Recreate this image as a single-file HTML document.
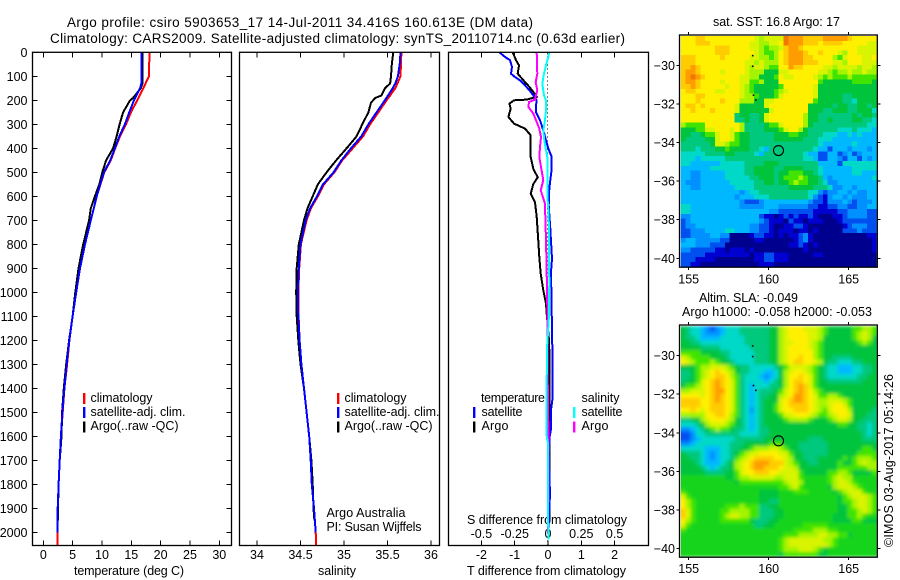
<!DOCTYPE html>
<html><head><meta charset="utf-8"><title>Argo profile</title>
<style>
html,body{margin:0;padding:0;background:#fff;width:900px;height:580px;overflow:hidden}
svg{display:block}
text{font-family:"Liberation Sans",sans-serif;font-size:12.5px;fill:#000}
.t{font-size:13.5px}
</style></head>
<body>
<svg id="chart" width="900" height="580" viewBox="0 0 900 580">
<defs><filter id="soft" x="-2%" y="-2%" width="104%" height="104%"><feGaussianBlur stdDeviation="1.6"/></filter>
<clipPath id="slaClip"><rect x="680.7" y="326" width="196" height="230.7"/></clipPath></defs>
<text class="t" x="67" y="27" textLength="466">Argo profile: csiro 5903653_17 14-Jul-2011 34.416S 160.613E (DM data)</text>
<text class="t" x="50" y="43" textLength="575">Climatology: CARS2009. Satellite-adjusted climatology: synTS_20110714.nc (0.63d earlier)</text>
<text x="74" y="575" textLength="110">temperature (deg C)</text>
<text x="318" y="575" textLength="38">salinity</text>
<text x="467" y="524" textLength="160">S difference from climatology</text>
<text x="467" y="575" textLength="159">T difference from climatology</text>

<rect x="83" y="393" width="2.4" height="11" fill="#f00"/>
<rect x="83" y="407" width="2.4" height="11" fill="#00f"/>
<rect x="83" y="421.500" width="2.4" height="11" fill="#000"/>
<text x="90.500" y="402" textLength="62">climatology</text>
<text x="90.500" y="416" textLength="95">satellite-adj. clim.</text>
<text x="90.500" y="430" textLength="88">Argo(..raw -QC)</text>

<rect x="337" y="393" width="2.4" height="11" fill="#f00"/>
<rect x="337" y="407" width="2.4" height="11" fill="#00f"/>
<rect x="337" y="421.500" width="2.4" height="11" fill="#000"/>
<text x="344.500" y="402" textLength="62">climatology</text>
<text x="344.500" y="416" textLength="95">satellite-adj. clim.</text>
<text x="344.500" y="430" textLength="88">Argo(..raw -QC)</text>
<text x="326.500" y="517" textLength="79">Argo Australia</text>
<text x="326.500" y="531" textLength="95">PI: Susan Wijffels</text>

<text x="481" y="402" textLength="64">temperature</text>
<text x="481.500" y="416" textLength="41">satellite</text>
<text x="481.500" y="430" textLength="27">Argo</text>
<text x="581.500" y="402" textLength="38">salinity</text>
<text x="581.500" y="416" textLength="41">satellite</text>
<text x="581.500" y="430" textLength="27">Argo</text>
<rect x="473" y="407" width="2.4" height="11" fill="#00f"/>
<rect x="473" y="421.500" width="2.4" height="11" fill="#000"/>
<rect x="573" y="407" width="2.4" height="11" fill="#0ff"/>
<rect x="573" y="421.500" width="2.4" height="11" fill="#f0f"/>

<text x="713" y="26" textLength="127">sat. SST: 16.8 Argo: 17</text>
<text x="699" y="302" textLength="99">Altim. SLA: -0.049</text>
<text x="682" y="316" textLength="190">Argo h1000: -0.058 h2000: -0.053</text>
<text transform="translate(893,547) rotate(-90)" x="0" y="0" textLength="173">©IMOS 03-Aug-2017 05:14:26</text>
</svg>
<script>
const depthTicks = [0,100,200,300,400,500,600,700,800,900,1000,1100,1200,1300,1400,1500,1600,1700,1800,1900,2000];
const tempTicks = [0,5,10,15,20,25,30];
const salTicks = [34,34.5,35,35.5,36];
const diffTTicks = [-2,-1,0,1,2];
const diffSTicks = [-0.5,-0.25,0,0.25,0.5];
const lonTicks = [155,160,165];
const latTicks = [-30,-32,-34,-36,-38,-40];

const climDepth = [0,100,150,200,250,300,350,400,450,500,550,600,650,700,800,900,1000,1100,1200,1300,1400,1500,1600,1700,1800,1900,2000,2056];
const climTemp = [18.1,18.0,17.05,16.0,14.95,14.1,13.07,12.25,11.5,10.4,9.75,9.1,8.6,8.1,7.05,6.25,5.6,5.0,4.45,4.05,3.6,3.3,3.0,2.8,2.6,2.45,2.4,2.4];
const climSal = [35.66,35.65,35.59,35.49,35.395,35.3,35.22,35.1,34.98,34.89,34.77,34.7,34.62,34.57,34.505,34.485,34.475,34.478,34.49,34.51,34.54,34.57,34.6,34.617,34.63,34.655,34.675,34.68];

const satDepth = [0,130,150,200,250,300,350,400,450,500,550,600,650,700,800,900,1000,1100,1200,1300,1400,1500,1600,1700,1800,1900,2000];
const satTemp = [16.7,16.7,16.5,15.46,14.66,13.9,12.95,12.2,11.4,10.35,9.7,9.1,8.6,8.1,7.1,6.25,5.6,5.0,4.43,3.98,3.6,3.25,3.0,2.8,2.6,2.45,2.4];
const satSalDepth = [0,50,100,130,150,200,250,300,350,400,450,500,550,600,650,700,800,900,1000,1100,1200,1300,1400,1500,1600,1700,1800,1900,2000];
const satSal = [35.65,35.64,35.62,35.59,35.56,35.47,35.375,35.28,35.2,35.08,34.97,34.88,34.76,34.69,34.61,34.56,34.5,34.48,34.47,34.475,34.49,34.51,34.54,34.57,34.6,34.617,34.63,34.655,34.675];

const argoDepth = [0,130,150,190,200,250,300,350,400,450,500,550,600,650,700,800,900,1000,1100,1200,1300,1400,1500,1600,1700,1800,1900,1950];
const argoTemp = [16.9,16.9,16.6,15.3,14.8,13.6,13.0,12.5,11.9,10.7,10.05,9.55,8.8,8.1,7.8,6.8,6.0,5.45,5.0,4.4,3.9,3.5,3.2,3.1,2.8,2.6,2.5,2.5];
const argoSalDepth = [0,50,100,130,150,180,190,210,250,300,350,400,450,500,550,600,650,700,800,900,1000,1100,1200,1300,1400,1500,1600,1700,1800,1900,1950];
const argoSal = [35.567,35.55,35.54,35.53,35.47,35.43,35.36,35.31,35.28,35.21,35.145,35.03,34.91,34.8,34.7,34.64,34.58,34.54,34.48,34.456,34.45,34.456,34.475,34.5,34.54,34.57,34.6,34.625,34.64,34.65,34.66];

const dtArgoDepth = [0,33,54,89,124,144,165,186,197,200,214,235,269,297,318,346,394,436,485,521,549,589,624,686,786,853,922,992,1047,1089,1200,1300,1500,1700,1900,1950];
const dtArgo = [-1.06,-0.96,-0.87,-0.91,-0.69,-0.56,-0.44,-0.34,-0.64,-1.02,-1.16,-1.12,-1.19,-1.02,-0.69,-0.52,-0.52,-0.52,-0.44,-0.31,-0.44,-0.52,-0.39,-0.34,-0.29,-0.26,-0.22,-0.14,-0.06,-0.04,0.03,0.05,0.05,0.05,0.05,0.05];
const dtSatDepth = [0,19,33,61,89,103,117,138,158,179,200,221,249,283,325,367,401,436,485,568,638,735,860,915,1228,1450,1490,1570,1600,1670,1840,2000];
const dtSat = [-1.46,-1.29,-1.14,-1.08,-1.11,-0.99,-0.84,-0.69,-0.56,-0.44,-0.34,-0.36,-0.36,-0.24,-0.14,-0.06,0.01,0.11,0.11,0.04,0.02,0.07,0.12,0.09,0.13,0.13,0.09,0.09,0.05,0.02,0.06,0.01];
const dsArgoDepth = [0,89,124,158,179,197,207,228,255,283,318,353,394,436,478,533,575,630,686,783,922,1061,1117,1250,1670,2000];
const dsArgo = [-0.085,-0.08,-0.0925,-0.08,-0.09,-0.0975,-0.1425,-0.1475,-0.11,-0.09,-0.065,-0.0525,-0.06,-0.065,-0.0525,-0.035,-0.055,-0.0225,-0.02,-0.015,-0.01,-0.005,-0.005,-0.005,0.005,0.0];
const dsSatDepth = [0,19,54,89,131,179,200,242,283,325,367,408,436,512,595,678,817,957,1095,1117,1233,1372,1600,1628,1950,2030];
const dsSat = [0.01,0.0025,-0.015,-0.03,-0.0425,-0.03,-0.015,-0.015,-0.0225,-0.035,-0.0275,-0.015,-0.005,-0.0025,-0.005,0.005,0.0075,0.01,0.0075,0.005,-0.0075,-0.01,-0.01,0.0,0.0,0.005];

const islandLon = [159,159,159.05,159.2];
const islandLat = [-29.5,-30.05,-31.55,-31.8];
const argoLon = [160.613];
const argoLat = [-34.416];

const colorScale = ['#00008f','#0000d0','#0050f0','#0090ff','#00b8ff','#00d8c8','#00c87c','#00c43c','#40e400','#a4f400','#d8f400','#fff000','#ffcc00','#ff9c00','#f07800','#14d41c'];

const sstRows = [
"bbbccbbbbbbbbbba9aaaaedddccccdddddcbbbbb",
"bbbcccbbbbbbbbaa99aabedddcccbccccbbbbbaa",
"bbbbbbbcccbbbbaa9899acddcbbbbbbbbbbbaaaa",
"bbbbbbbcccbbbbba9889bcdddcbbcbbba9bbaaaa",
"cccbbbbbcbbbbbaa9989bcdddccbbbb98abbbaab",
"cccbbbbbbbbbbaa9a999bcdddcccbbbaa9bbbaaa",
"ccdcbbbbbbbbba9aa988bbdccbbbbaa9aaaa9aa9",
"cddcbbbbabbbba999777aabbbbbbaa9899a99a99",
"cdedcbbbbbbbaa997778baabbbba989888988888",
"cddcbbbbabbbaa889777bbbbbbbb877777788887",
"ccdcbbbbbabba98777778bbbbbba777777777777",
"bccbbbbaabbba98777789abbbbba777777777777",
"bbbccbbbbbbba9987778abbbbbba777776677777",
"bbbcbbbbcbbb99977aabbbbbbbb8777776657777",
"bccbcbbbbbba77777abbbbbbbb77777677667767",
"bbcbbbcbbbba777777abbbbbbb77766777667775",
"bbbbbbbbbbb677667abbbbbbb977666666676776",
"bbbbbbbbbbb667667abbbbbbb977667666677665",
"98888bbbbbbb96666788abbbb976666666666655",
"77788aabbbab966667778abb9766666655565554",
"7766788abba87766666777887766655544545444",
"7666677abba87766666777777666555444444444",
"6666667aa98877666666666666665444444544 4",
"6665666778777766546666666665442444344434",
"5555566667766665466666666544224423423444",
"5554555556666666666666666554224432442434",
"5544444455555666677766666666444425555555",
"4444445555555667777667777666544444455555",
"4433444445555667777677888776544444455444",
"4433444445555566777678889877643444444445",
"4333444444555556677677898877653344444444",
"4433444444455556666666777776665334434444",
"4444444444443455666666666655323344343344",
"4444444444434445556666666653213443433344",
"4444444444443222344444444432213334323334",
"5544444444443333344433333322112233223344",
"5544444444444444443322222221111122333322",
"3344444444444444211012121121000112333322",
"2344444444444444321110211011100012222222",
"2334444444444433221001122100000001233322",
"2233344445544433221011101101000002223222",
"2233334433000012211010112310000000000011",
"3443333322000001100000012310000000000001",
"4443332220000000000000112101000000000001",
"3322222110111010000000000100000000000001",
"2222211111111101122111000001100000000000",
"2221111000000001122111000000000000000000",
"2211000000000000111000000000000000000000"
];

const slaRows = [
"7655432345556666667 79abbbaaa987777788998",
"76554333455566666677 9abbbbaa987777789a98",
"76654444555556666677 9abbbbaa977777789a97",
"77665555555556666677 9aabbba9877777778987",
"77776666555555666677 9abbbba9877777777777",
"88887777665555566677 9abbbbb9877777777777",
"a9888877765555566677 9abbcbb9877666677777",
"ba988898776555566677 9abccbba976655566777",
"777899aaa9876655555678aaaa98765544455667",
"66789abcba976655544579abba98765544455667",
"66789abccb986555434579bbcba8765555556677",
"6778abcdcba86555545679bccba8776666666777",
"7889abcdcba86545556679bcdca8777777777777",
"99aaabcddba8654566678abcdcb9877777777777",
"bbbbabcdcba8654566779abddcba889987777777",
"ccccbbcdcba865456777abcddcba99aaa9877777",
"ccccbbcccba865456778abccccba99abba877777",
"bbcbabcccba865356778abbcccba98abbb977776",
"99999bbccb98654567778aabbba9889abba77766",
"66779abbba976545677778999987778 9aa977666",
"555679aaa98765456777777777777777887766 56",
"33456789887665456677777777777777777766 56",
"22355666666655556677777777777777777776 56",
"22345555555666666777777777666777777 77666",
"33455555556667777788877766666677777777 77",
"5555544455667789 99aa9877666666777777 7887",
"76665434556789aabbbbaa877666667777778888",
"7766543455689abccccbba977666777778789998",
"777654445679abcdddccca987766777787789a99",
"777765456679abcddcccbaa97777777788888899",
"777776666778abbcccbbaaaa8777778899877778",
"fffffffff77899aaaaa99aaa8fffff89a99fffff",
"fffffffffff788888888 89aa9fffff89aa98fff",
"fffffffffffffffffff f889a8fffff79aaa98ff",
"8fffffffffffffff7777fff888fffff789aaa8ff",
"a8ffffffffffffff7777ffffffffffff789aaa98",
"b98fffffffffffff7766ffffffffffff7889aa98",
"b98ffffff88898886677ffffffffffff7789aa98",
"ca8fffff8899998866677fffffffffff77889a98",
"ca8fffff89aa99886667 7ffffffffff7778898f",
"b98fffff88888876667 7fffffffffff77778877",
"a8fffffffffffff6677ffffff88888ffffffffff",
"8ffffffffffffffffffffff8888999 88fffffff",
"fffffffffffffffffffff8889999aa998 87ffff",
"ffffffffffffffffffff89aaaaaaa9 98fffffff",
"ffffffffffffffffffff89aaaaaaaa98ffffffff",
"ffffffffffffffffffff8999aaa987ffffffffff",
"ffffffffffffffffffff788888887 7fffffffff"
];

const svg = document.getElementById('chart');
const NS = 'http://www.w3.org/2000/svg';
function mk(tag, attrs, parent){
  const e = document.createElementNS(NS, tag);
  for (const k in attrs) e.setAttribute(k, attrs[k]);
  (parent || svg).appendChild(e);
  return e;
}
const yDepth = function(d){ return 52.3 + d * 0.24; };
const xTemp = function(v){ return 43.3 + v * 5.867; };
const xSal = function(v){ return 257 + (v - 34) * 87; };
const xDT = function(v){ return 548 + v * 33.3; };
const xDS = function(v){ return 548 + v * 133.2; };
const xLon1 = function(v){ return 688.7 + (v - 155) * 16; };
const ySst = function(v){ return 65.3 + (-30 - v) * 19.3; };
const ySla = function(v){ return 355.6 + (-30 - v) * 19.3; };

function axisLine(x1,y1,x2,y2){
  const l = mk('line',{x1:x1,y1:y1,x2:x2,y2:y2,stroke:'#000','stroke-width':1,'shape-rendering':'crispEdges'});
  
  
  return l;
}
function label(str,x,y,anchor){
  const t = mk('text',{x:x,y:y,'text-anchor':anchor});
  t.textContent = str;
  
  
  return t;
}
function box(x,y,w,h,name){
  const r = mk('rect',{x:x,y:y,width:w,height:h,fill:'none',stroke:'#000','stroke-width':1.3});
  
  
}
function series(xs,ds,xf,color,name,w){
  const pts = xs.map(function(v,i){ return xf(v).toFixed(1)+','+yDepth(ds[i]).toFixed(1); }).join(' ');
  const p = mk('polyline',{points:pts,fill:'none',stroke:color,'stroke-width':w||2,'stroke-linejoin':'miter','shape-rendering':'crispEdges'});
  
  
}

const panelTop = 52.3, panelBot = 545.5;
// temperature panel
depthTicks.forEach(function(d){
  axisLine(32.5,yDepth(d),37.5,yDepth(d));
  axisLine(226.5,yDepth(d),231.5,yDepth(d));
  label(String(d),27.5,yDepth(d)+4.5,'end');
});
tempTicks.forEach(function(v){
  axisLine(xTemp(v),panelTop,xTemp(v),panelTop+5);
  axisLine(xTemp(v),panelBot-5,xTemp(v),panelBot);
  label(String(v),xTemp(v),559,'middle');
});
series(climTemp,climDepth,xTemp,'#f00','series-climatology-temperature');
series(argoTemp,argoDepth,xTemp,'#000','series-argo-temperature');
series(satTemp,satDepth,xTemp,'#00f','series-satellite-temperature');
box(32.5,panelTop,199,panelBot-panelTop,'temperature-panel');
// salinity panel
salTicks.forEach(function(v){
  axisLine(xSal(v),panelTop,xSal(v),panelTop+5);
  axisLine(xSal(v),panelBot-5,xSal(v),panelBot);
  label(String(v),xSal(v),559,'middle');
});
series(climSal,climDepth,xSal,'#f00','series-climatology-salinity');
series(argoSal,argoSalDepth,xSal,'#000','series-argo-salinity');
series(satSal,satSalDepth,xSal,'#00f','series-satellite-salinity');
box(239.5,panelTop,200,panelBot-panelTop,'salinity-panel');
// difference panel
const zeroLine = mk('line',{x1:547.5,y1:panelTop,x2:547.5,y2:panelBot,stroke:'#000','stroke-width':1,'stroke-dasharray':'1 3','shape-rendering':'crispEdges'});


diffTTicks.forEach(function(v){
  axisLine(xDT(v),panelTop,xDT(v),panelTop+5);
  axisLine(xDT(v),panelBot-5,xDT(v),panelBot);
  label(String(v),xDT(v),559,'middle');
});
diffSTicks.forEach(function(v){
  label(String(v),xDS(v),538,'middle');
});
series(dtArgo,dtArgoDepth,xDT,'#000','series-argo-t-difference');
series(dtSat,dtSatDepth,xDT,'#00f','series-satellite-t-difference');
series(dsArgo,dsArgoDepth,xDS,'#f0f','series-argo-s-difference');
series(dsSat,dsSatDepth,xDS,'#0ff','series-satellite-s-difference');
box(448.5,panelTop,200,panelBot-panelTop,'difference-panel');

function drawMap(rows,top,bottom,yf,name,smooth){
  const left = 680.7, right = 876.7;
  const cw = (right-left)/40, ch = (bottom-top)/rows.length;
  const outer = mk('g',smooth ? {'clip-path':'url(#slaClip)'} : {});
  
  
  const g = mk('g',smooth ? {filter:'url(#soft)'} : {},outer);
  
  
  rows.forEach(function(row,r){
    for (let c=-1;c<=40;c++){
      const cc = Math.max(0,Math.min(row.length-1,c));
      const level = parseInt(row[cc],16);
      const x0 = left + c*cw, y0 = top + r*ch;
      const cell = mk('rect',{x:x0.toFixed(2),y:y0.toFixed(2),width:(cw+0.4).toFixed(2),height:(ch+0.4).toFixed(2),fill:colorScale[level],'shape-rendering':'crispEdges'},g);
      
      
    }
  });
  const mask1 = mk('rect',{x:670,y:top-10,width:10.7,height:bottom-top+20,fill:'#fff'});
  
  
  const mask2 = mk('rect',{x:876.7,y:top-10,width:6,height:bottom-top+20,fill:'#fff'});
  
  
  box(679.5,top-1,197.8,bottom-top+1.5,name+'-frame');
  lonTicks.forEach(function(v){
    axisLine(xLon1(v),top-4,xLon1(v),top-1);
    axisLine(xLon1(v),bottom+0.5,xLon1(v),bottom+3.5);
  });
  latTicks.forEach(function(v){
    axisLine(676.5,yf(v),679.5,yf(v));
    axisLine(877.3,yf(v),880.3,yf(v));
    label(String(v).replace('-','\u2212'),675,yf(v)+4.5,'end');
  });
  islandLon.forEach(function(v,i){
    const d = mk('rect',{x:xLon1(v)-0.8,y:yf(islandLat[i])-0.8,width:1.6,height:1.6,fill:'#000'});
    
    
  });
  argoLon.forEach(function(v,i){
    const m = mk('circle',{cx:xLon1(v),cy:yf(argoLat[i]),r:5,fill:'none',stroke:'#000','stroke-width':1.1});
    
    
  });
}
function clean(rows){
  return rows.map(function(r){ return r.replace(/ /g,'').slice(0,40); });
}
drawMap(clean(sstRows),36,266.7,ySst,'sst-map',false);
drawMap(clean(slaRows),326,556.7,ySla,'sla-map',true);
lonTicks.forEach(function(v){
  label(String(v),xLon1(v),283.5,'middle');
  label(String(v),xLon1(v),573,'middle');
});
</script>
</body></html>
